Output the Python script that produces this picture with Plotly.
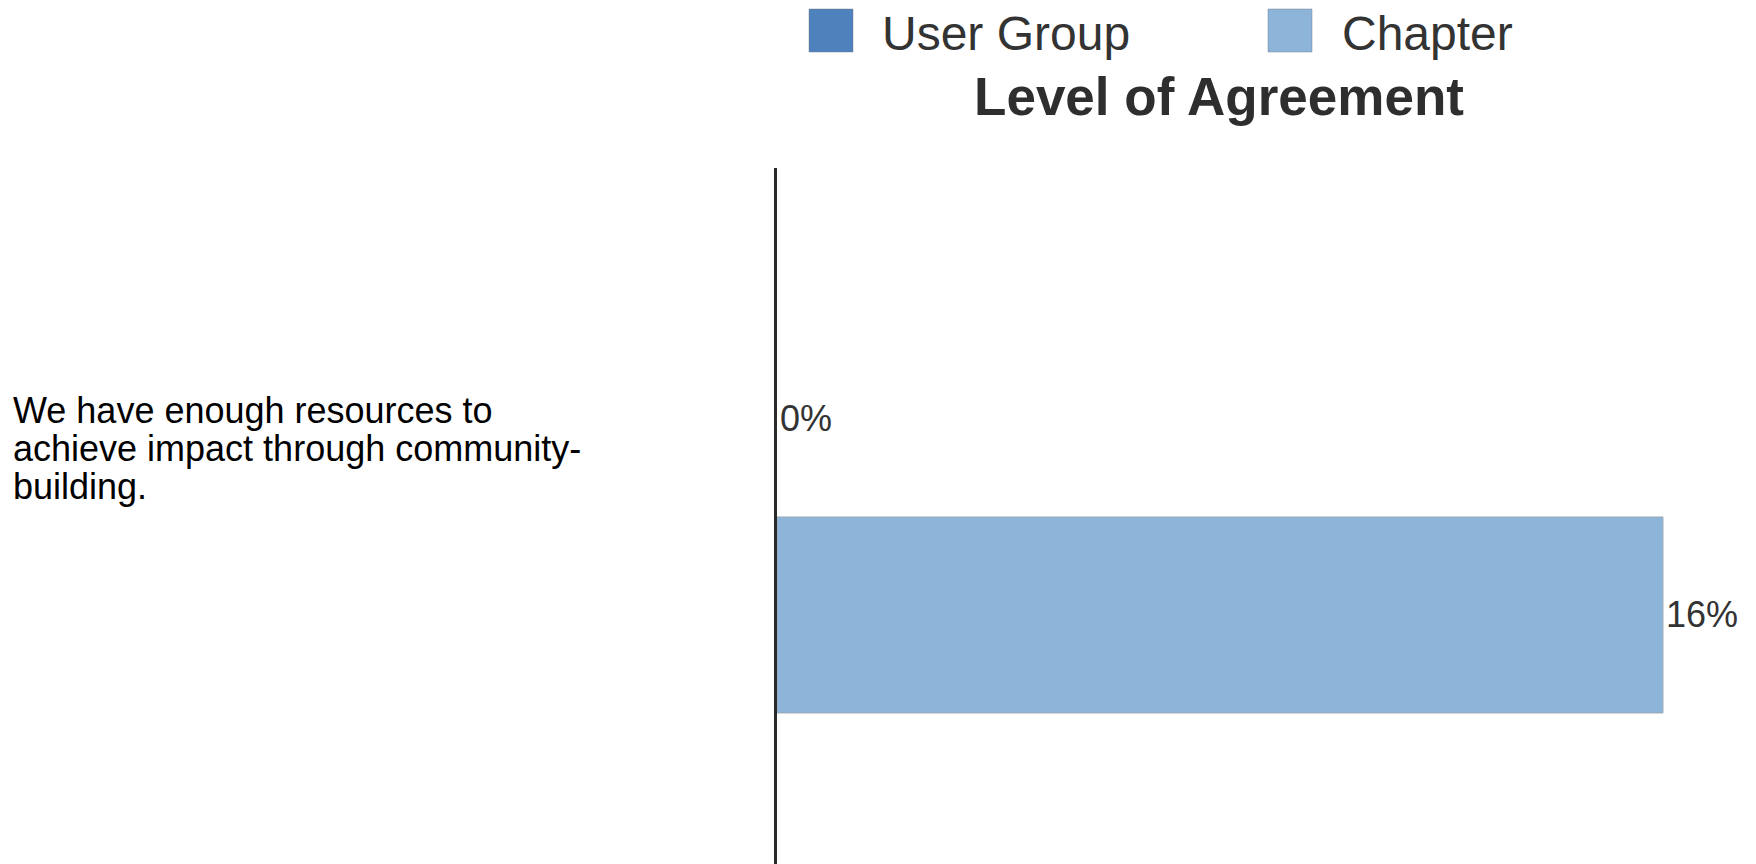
import plotly.graph_objects as go

# Survey statement (category) and the share of respondents per group
categories = ["We have enough resources to<br>achieve impact through community-<br>building."]
series_names = ["User Group", "Chapter"]
user_group = [0]
chapter = [16]
series_values = [user_group, chapter]
series_colors = ["#4F81BD", "#8DB5DA"]
chart_title = "Level of Agreement"

FONT = "Liberation Sans, Arial, Helvetica, sans-serif"
TEXT_DARK = "#333333"

FIG_W, FIG_H = 1756, 864
L, T = 777, 168
PLOT_W = FIG_W - L
PLOT_H = FIG_H - T


def paper_x(px):
    return (px - L) / PLOT_W


def paper_y(py):
    return (FIG_H - py) / PLOT_H


fig = go.Figure()

# Horizontal grouped bars: the first trace sits lowest in the group,
# so add them in reverse so "User Group" is drawn above "Chapter".
for name, vals, color in reversed(list(zip(series_names, series_values, series_colors))):
    fig.add_trace(go.Bar(
        orientation="h",
        y=categories,
        x=vals,
        name=name,
        marker=dict(
            color=color,
            line=dict(color="#9EA9B5", width=[1 if v > 0 else 0 for v in vals]),
        ),
        texttemplate="%{x:.0f}%",
        textposition="outside",
        textfont=dict(family=FONT, size=36, color=TEXT_DARK),
        constraintext="none",
        cliponaxis=False,
        showlegend=False,
        hoverinfo="skip",
    ))

annotations = []

# Category label, left-aligned, one annotation per line
line_shifts = [106, 68, 30]
for cat in categories:
    idx = categories.index(cat)
    for line, shift in zip(cat.split("<br>"), line_shifts):
        annotations.append(dict(
            text=line, xref="paper", yref="y",
            x=paper_x(11), y=idx, xanchor="left", yanchor="middle",
            yshift=shift, showarrow=False,
            font=dict(family=FONT, size=36, color="#000000"),
        ))

# Legend drawn with large square swatches
shapes = []
swatch_left = [809, 1268]
text_left = [880, 1340]
for name, color, sx, tx in zip(series_names, series_colors, swatch_left, text_left):
    shapes.append(dict(
        type="rect", xref="paper", yref="paper",
        x0=paper_x(sx), x1=paper_x(sx + 44),
        y0=paper_y(52), y1=paper_y(9),
        fillcolor=color, line=dict(color="rgba(110,120,135,0.45)", width=1),
    ))
    annotations.append(dict(
        text=name, xref="paper", yref="paper",
        x=paper_x(tx), y=paper_y(33), xanchor="left", yanchor="middle",
        showarrow=False, font=dict(family=FONT, size=48, color=TEXT_DARK),
    ))

fig.update_layout(
    width=FIG_W,
    height=FIG_H,
    autosize=False,
    margin=dict(l=L, r=0, t=T, b=0, pad=0),
    paper_bgcolor="white",
    plot_bgcolor="white",
    barmode="group",
    bargap=0.4368,
    bargroupgap=0,
    title=dict(
        text=f"<b>{chart_title}</b>",
        xref="paper", yref="container",
        x=paper_x(1219), xanchor="center",
        y=1 - 96.6 / FIG_H, yanchor="middle",
        font=dict(family=FONT, size=53, color="#2E2E2E"),
    ),
    xaxis=dict(range=[0, 17.68], visible=False, fixedrange=True),
    yaxis=dict(
        type="category",
        range=[-0.4986, 0.5014],
        showline=True, linecolor="#2A2A2A", linewidth=3,
        showticklabels=False, ticks="", showgrid=False, zeroline=False,
        fixedrange=True,
    ),
    annotations=annotations,
    shapes=shapes,
)

fig.write_html("out.html")
